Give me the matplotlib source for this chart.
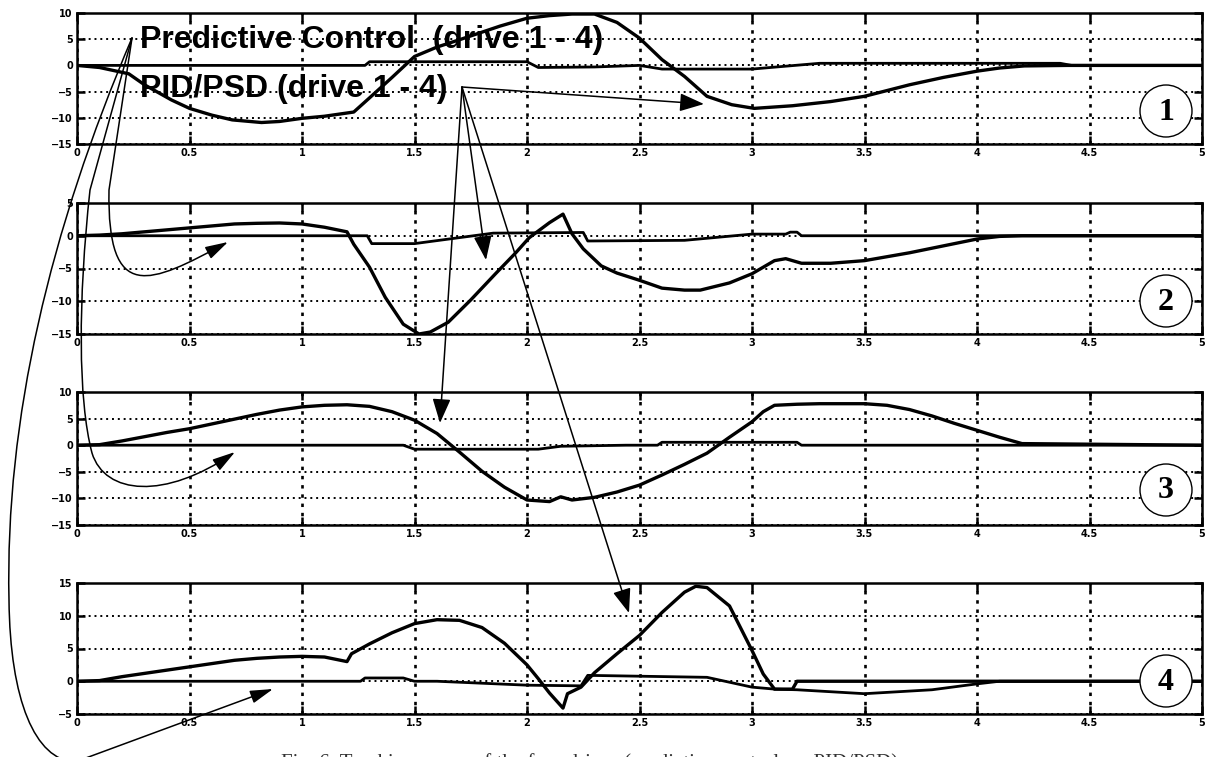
import numpy as np
import matplotlib
matplotlib.use('Agg')
import matplotlib.pyplot as plt
from matplotlib.patches import Ellipse, FancyArrowPatch
from matplotlib.path import Path

# drive 1
t_pid1 = [0, 0.1, 0.23, 0.3, 0.42, 0.5, 0.6, 0.69, 0.82, 0.9, 1.0, 1.1, 1.23, 1.3, 1.4, 1.5, 1.6, 1.7,
          1.88, 2.0, 2.1, 2.2, 2.3, 2.4, 2.5, 2.6, 2.7, 2.8, 2.91, 3.01, 3.18, 3.35, 3.5, 3.7, 3.85, 4.0,
          4.1, 4.21, 4.4, 5]
e_pid1 = [0, -0.4, -1.6, -3.7, -6.6, -8.2, -9.5, -10.4, -10.9, -10.7, -10.1, -9.7, -8.9, -6.2, -2.3, 1.7,
          3.5, 4.9, 7.5, 9.0, 9.5, 9.8, 9.8, 8.2, 5.2, 1.1, -2.1, -5.9, -7.5, -8.2, -7.7, -6.9, -5.9, -3.7,
          -2.3, -1.1, -0.5, -0.1, 0, 0]
t_pc1 = [0, 1.28, 1.3, 2.0, 2.05, 2.3, 2.5, 2.6, 3.0, 3.3, 4.37, 4.42, 5]
e_pc1 = [0, 0, 0.7, 0.7, -0.4, -0.3, 0, -0.7, -0.7, 0.4, 0.4, 0, 0]

# drive 2
t_pid2 = [0, 0.1, 0.2, 0.3, 0.4, 0.5, 0.6, 0.7, 0.8, 0.9, 1.0, 1.1, 1.2, 1.23, 1.3, 1.37, 1.45, 1.52,
          1.57, 1.65, 1.75, 1.86, 1.95, 2.01, 2.1, 2.16, 2.2, 2.25, 2.33, 2.4, 2.5, 2.6, 2.7, 2.77, 2.9,
          3.0, 3.1, 3.15, 3.22, 3.35, 3.5, 3.7, 3.9, 4.0, 4.1, 4.2, 5]
e_pid2 = [0, 0.1, 0.3, 0.6, 0.9, 1.2, 1.5, 1.8, 1.9, 1.95, 1.8, 1.3, 0.6, -1.3, -4.8, -9.4, -13.5, -15.0,
          -14.7, -13.2, -9.8, -5.8, -2.6, -0.3, 2.0, 3.3, 0.3, -2.0, -4.6, -5.7, -6.8, -8.0, -8.3, -8.3,
          -7.2, -5.8, -3.8, -3.5, -4.2, -4.2, -3.8, -2.6, -1.2, -0.5, -0.1, 0, 0]
t_pc2 = [0, 1.29, 1.31, 1.5, 1.85, 2.25, 2.27, 2.7, 3.0, 3.15, 3.17, 3.2, 3.22, 4.2, 5]
e_pc2 = [0, 0, -1.2, -1.2, 0.4, 0.5, -0.8, -0.7, 0.25, 0.25, 0.55, 0.55, 0, 0, 0]

# drive 3
t_pid3 = [0, 0.1, 0.2, 0.3, 0.4, 0.5, 0.6, 0.7, 0.8, 0.9, 1.0, 1.1, 1.2, 1.3, 1.4, 1.5, 1.6, 1.7, 1.8,
          1.9, 2.0, 2.1, 2.15, 2.2, 2.3, 2.4, 2.5, 2.6, 2.7, 2.8, 2.9, 3.0, 3.05, 3.1, 3.2, 3.3, 3.4, 3.5,
          3.6, 3.7, 3.8, 3.9, 4.0, 4.1, 4.2, 5]
e_pid3 = [0, 0.1, 0.8, 1.6, 2.4, 3.1, 4.0, 4.9, 5.8, 6.6, 7.2, 7.5, 7.6, 7.3, 6.3, 4.7, 2.2, -1.3, -4.9,
          -7.9, -10.3, -10.6, -9.7, -10.3, -9.8, -8.8, -7.5, -5.6, -3.6, -1.5, 1.5, 4.4, 6.3, 7.5, 7.7,
          7.8, 7.8, 7.8, 7.5, 6.7, 5.5, 4.1, 2.8, 1.5, 0.3, 0]
t_pc3 = [0, 1.45, 1.5, 2.05, 2.15, 2.44, 2.58, 2.6, 3.2, 3.22, 5]
e_pc3 = [0, 0, -0.75, -0.75, -0.2, 0, 0, 0.55, 0.55, 0, 0]

# drive 4
t_pid4 = [0, 0.1, 0.2, 0.3, 0.4, 0.5, 0.6, 0.7, 0.8, 0.9, 1.0, 1.1, 1.2, 1.22, 1.3, 1.4, 1.5, 1.6, 1.7,
          1.8, 1.9, 2.0, 2.05, 2.1, 2.16, 2.18, 2.24, 2.3, 2.4, 2.5, 2.6, 2.7, 2.75, 2.8, 2.9, 3.0, 3.05,
          3.1, 3.18, 3.2, 5]
e_pid4 = [0, 0.1, 0.7, 1.2, 1.7, 2.2, 2.7, 3.2, 3.5, 3.7, 3.8, 3.7, 3.0, 4.2, 5.7, 7.4, 8.8, 9.4, 9.3,
          8.2, 5.8, 2.5, 0.4, -1.8, -4.1, -1.9, -0.9, 1.3, 4.2, 7.0, 10.5, 13.6, 14.5, 14.3, 11.5, 4.7,
          1.1, -1.2, -1.2, 0, 0]
t_pc4 = [0, 1.26, 1.28, 1.45, 1.5, 1.6, 1.8, 2.0, 2.24, 2.27, 2.8, 3.0, 3.1, 3.2, 3.5, 3.8, 4.0, 4.1, 5]
e_pc4 = [0, 0, 0.5, 0.5, 0, 0, -0.3, -0.6, -0.7, 0.9, 0.6, -0.9, -1.2, -1.3, -1.9, -1.3, -0.4, 0, 0]

ylims = [(-15, 10), (-15, 5), (-15, 10), (-5, 15)]
xticks = [0, 0.5, 1, 1.5, 2, 2.5, 3, 3.5, 4, 4.5, 5]
xticklabels = ['0', '0.5', '1', '1.5', '2', '2.5', '3', '3.5', '4', '4.5', '5']
drive_labels = ['1', '2', '3', '4']
label_pc = 'Predictive Control  (drive 1 - 4)'
label_pid = 'PID/PSD (drive 1 - 4)'
caption = 'Fig. 6  Tracking errors of the four drives (predictive control vs. PID/PSD)'

W, H = 1205, 757
fig = plt.figure(figsize=(W / 100, H / 100), dpi=100)

def fp(x, y):
    # pixel position -> figure fraction
    return (x / W, 1 - y / H)

boxes = [(13, 144), (203, 334), (392, 525), (583, 714)]
pids = [(t_pid1, e_pid1), (t_pid2, e_pid2), (t_pid3, e_pid3), (t_pid4, e_pid4)]
pcs = [(t_pc1, e_pc1), (t_pc2, e_pc2), (t_pc3, e_pc3), (t_pc4, e_pc4)]
circ_y = [111, 301, 490, 681]

for i in range(4):
    top, bot = boxes[i]
    ax = fig.add_axes([77 / W, 1 - bot / H, 1125 / W, (bot - top) / H])
    ax.plot(pcs[i][0], pcs[i][1], color='black', lw=2.0, solid_joinstyle='round')
    ax.plot(pids[i][0], pids[i][1], color='black', lw=2.4, solid_joinstyle='round')
    ax.set_xlim(0, 5)
    ax.set_ylim(*ylims[i])
    ax.set_xticks(xticks)
    ax.set_xticklabels(xticklabels)
    ax.set_yticks(np.arange(ylims[i][0], ylims[i][1] + 1, 5))
    ax.xaxis.grid(True, color='black', linestyle=(0, (1.3, 2.2)), lw=1.9)
    ax.yaxis.grid(True, color='black', linestyle=(0, (1.0, 2.0)), lw=1.4)
    ax.tick_params(direction='in', top=True, right=True, length=6, width=1.8,
                   labelsize=7, pad=3)
    for lab in ax.get_xticklabels() + ax.get_yticklabels():
        lab.set_fontweight('bold')
    for s in ax.spines.values():
        s.set_linewidth(1.8)

    # circled drive number
    fig.add_artist(Ellipse(fp(1166, circ_y[i]), 52 / W, 52 / H, transform=fig.transFigure,
                           facecolor='white', edgecolor='black', lw=1.0, zorder=5))
    fig.text(*fp(1166, circ_y[i] + 1), drive_labels[i], ha='center', va='center',
             fontsize=23, fontweight='bold', family='Liberation Serif', zorder=6)

# labels
fig.text(*fp(140, 48), label_pc, fontsize=23, fontweight='bold', family='Liberation Sans',
         va='baseline', zorder=7)
fig.text(*fp(140, 97), label_pid, fontsize=23, fontweight='bold', family='Liberation Sans',
         va='baseline', zorder=7)

# arrows from the predictive label (thin, curved)
def curved(verts, codes):
    pts = [fp(x, y) for x, y in verts]
    a = FancyArrowPatch(path=Path(pts, codes), arrowstyle='-|>,head_length=0.7,head_width=0.2',
                        mutation_scale=20, color='black', lw=1.1, transform=fig.transFigure,
                        zorder=8)
    fig.add_artist(a)

M, L, C = Path.MOVETO, Path.LINETO, Path.CURVE4
curved([(132, 38), (109, 190), (107, 305), (150, 284), (228, 242)], [M, L, C, C, C])
curved([(132, 38), (90, 190), (78, 300), (78, 400), (92, 453), (105, 495), (165, 500), (235, 452)],
       [M, L, C, C, C, C, C, C])
curved([(132, 38), (50, 230), (5, 420), (9, 600), (10, 700), (35, 760), (75, 762), (273, 689)],
       [M, C, C, C, C, C, C, L])

# arrows from the PID label (straight)
for tip in [(704, 104), (486, 260), (440, 423), (629, 613)]:
    a = FancyArrowPatch(fp(462, 87), fp(*tip), arrowstyle='-|>,head_length=0.75,head_width=0.28',
                        mutation_scale=20, color='black', lw=1.1, shrinkA=0, shrinkB=0,
                        transform=fig.transFigure, zorder=8)
    fig.add_artist(a)

# caption, cut off at the bottom edge as in the source page
fig.text(*fp(590, 753), caption, ha='center', va='top', fontsize=15, family='Liberation Serif',
         color='#333333')

fig.savefig('out.png', dpi=100)
